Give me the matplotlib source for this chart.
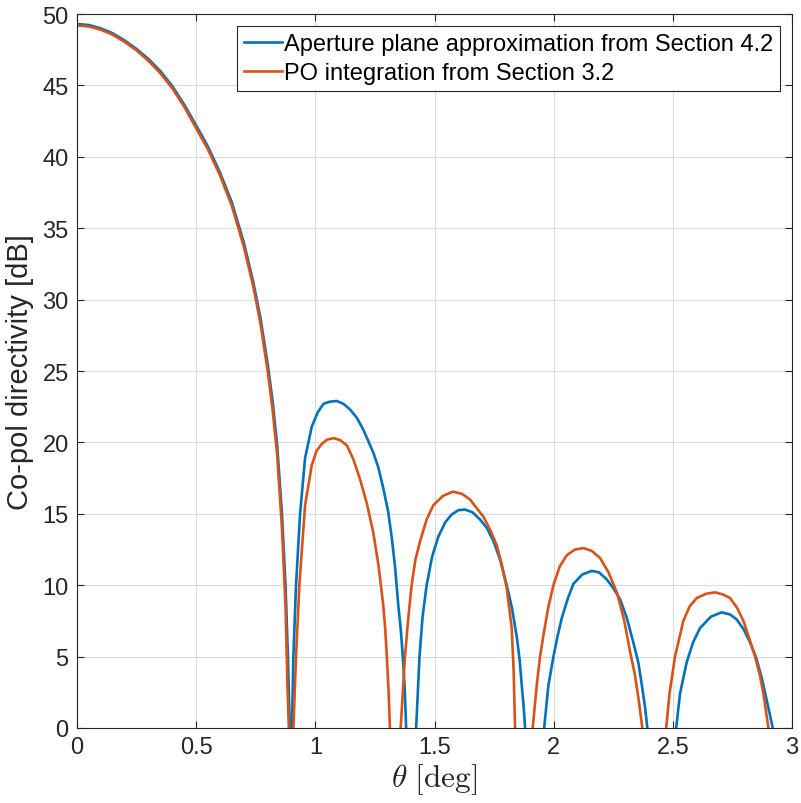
import matplotlib
matplotlib.use("Agg")
from matplotlib import pyplot as plt

plt.rcParams['font.family'] = ['Liberation Sans', 'DejaVu Sans']
plt.rcParams['mathtext.fontset'] = 'cm'

# aperture plane approximation (blue)
# (negative values mark the nulls, which fall below the 0 dB axis limit)
theta_ap = [0.0, 0.05, 0.1, 0.15, 0.2, 0.25, 0.3, 0.35, 0.4, 0.45, 0.5, 0.55, 0.6,
            0.65, 0.7, 0.74, 0.77, 0.8, 0.82, 0.84, 0.86, 0.875, 0.885, 0.892, 0.897,
            0.902, 0.908, 0.919, 0.936, 0.957, 0.985, 1.01, 1.034, 1.06, 1.09, 1.118,
            1.146, 1.175, 1.201, 1.243, 1.265, 1.285, 1.305, 1.321, 1.335, 1.348,
            1.358, 1.367, 1.375, 1.381, 1.40,
            1.423, 1.437, 1.45, 1.467, 1.49, 1.516, 1.545, 1.572, 1.60, 1.628, 1.66,
            1.691, 1.72, 1.747, 1.775, 1.803, 1.825, 1.845, 1.857, 1.866, 1.874,
            1.88, 1.92,
            1.96, 1.978, 1.999, 2.016, 2.034, 2.06, 2.083, 2.12, 2.16, 2.19, 2.223,
            2.25, 2.279, 2.307, 2.334, 2.355, 2.37, 2.383, 2.393, 2.45,
            2.514, 2.53, 2.558, 2.585, 2.614, 2.66, 2.705, 2.74, 2.768, 2.797, 2.824,
            2.85, 2.873, 2.901, 2.919, 2.95]
dir_ap = [49.3, 49.23, 49.0, 48.65, 48.15, 47.55, 46.85, 46.0, 44.95, 43.65, 42.2,
          40.7, 38.9, 36.8, 34.0, 31.2, 28.7, 25.5, 23.0, 19.8, 15.0, 10.0, 5.0,
          0.5, -30,
          0.0, 5.0, 10.0, 15.0, 18.9, 21.1, 22.1, 22.7, 22.85, 22.9, 22.7,
          22.3, 21.7, 20.9, 19.3, 18.2, 16.8, 15.2, 13.3, 11.2, 8.6,
          7.0, 5.0, 2.8, 0.0, -30,
          0.0, 5.0, 7.8, 10.0, 12.0, 13.4, 14.4, 14.95, 15.25, 15.3, 15.1,
          14.6, 14.0, 13.1, 11.8, 10.0, 8.4, 6.4, 4.8, 3.0, 1.5,
          0.0, -30,
          0.0, 3.0, 5.0, 6.4, 7.7, 9.1, 10.1, 10.75, 11.0, 10.9, 10.4,
          9.8, 9.0, 7.7, 6.0, 4.6, 3.0, 1.5, 0.0, -30,
          0.0, 2.4, 4.6, 6.0, 7.0, 7.8, 8.1, 7.95, 7.6, 6.9, 6.0,
          4.9, 3.5, 1.4, 0.0, -30]

# PO integration (orange)
theta_po = [0.0, 0.05, 0.1, 0.15, 0.2, 0.25, 0.3, 0.35, 0.4, 0.45, 0.5, 0.55, 0.6,
            0.65, 0.7, 0.74, 0.77, 0.8, 0.82, 0.84, 0.86, 0.875, 0.883, 0.889, 0.898,
            0.908, 0.919, 0.933, 0.957, 0.985, 1.005, 1.027, 1.05, 1.078, 1.105,
            1.132, 1.16, 1.188, 1.215, 1.243, 1.265, 1.285, 1.293, 1.30, 1.307,
            1.313, 1.335,
            1.358, 1.376, 1.39, 1.404, 1.42, 1.44, 1.467, 1.495, 1.535, 1.577, 1.615,
            1.649, 1.705, 1.733, 1.761, 1.783, 1.803, 1.824, 1.832, 1.838, 1.87,
            1.912, 1.929, 1.942, 1.957, 1.978, 1.999, 2.025, 2.055, 2.09, 2.125,
            2.16, 2.195, 2.23, 2.265, 2.295, 2.321, 2.34, 2.356, 2.372, 2.42,
            2.472, 2.486, 2.509, 2.544, 2.57, 2.60, 2.64, 2.677, 2.71, 2.74,
            2.77, 2.796, 2.82, 2.845, 2.865, 2.88, 2.901, 2.95]
dir_po = [49.2, 49.13, 48.9, 48.55, 48.05, 47.45, 46.72, 45.85, 44.8, 43.5, 42.0,
          40.5, 38.7, 36.55, 33.7, 30.9, 28.3, 25.0, 22.4, 19.1, 14.0, 8.5, 3.0,
          0.0, -30,
          0.0, 5.0, 10.0, 15.6, 18.4, 19.4, 19.9, 20.2, 20.3, 20.15,
          19.8, 18.8, 17.4, 15.8, 13.7, 11.4, 8.6, 7.0, 5.0, 2.7,
          0.0, -30,
          0.0, 5.0, 7.7, 10.0, 11.8, 13.1, 14.6, 15.6, 16.25, 16.55, 16.4,
          16.0, 14.8, 13.9, 12.8, 11.4, 9.8, 7.0, 4.0, 0.0, -30,
          0.0, 3.0, 4.9, 6.5, 8.5, 10.0, 11.3, 12.1, 12.5, 12.6,
          12.4, 11.9, 10.9, 9.5, 7.6, 5.3, 3.8, 2.05, 0.0, -30,
          0.0, 2.4, 5.0, 7.5, 8.5, 9.1, 9.4, 9.5, 9.35, 9.1,
          8.4, 7.5, 6.3, 5.0, 3.7, 2.4, 0.0, -30]

fig = plt.figure(figsize=(8.01, 8.04), dpi=100)
ax = fig.add_axes([0.0961, 0.0933, 0.8927, 0.888])

ax.plot(theta_ap, dir_ap, color="#0072BD", lw=1.9,
        label="Aperture plane approximation from Section 4.2")
ax.plot(theta_po, dir_po, color="#D95319", lw=1.9,
        label="PO integration from Section 3.2")

ax.set_xlim(0, 3)
ax.set_ylim(0, 50)
ax.set_xticks([0, 0.5, 1, 1.5, 2, 2.5, 3])
ax.set_xticklabels(["0", "0.5", "1", "1.5", "2", "2.5", "3"])
ax.set_yticks(range(0, 51, 5))
ax.grid(True, color="#dcdcdc", lw=0.8)
ax.tick_params(direction="in", top=True, right=True, labelsize=17,
               colors="#262626", length=5, pad=6)
for s in ax.spines.values():
    s.set_color("#262626")
    s.set_linewidth(0.8)

ax.set_ylabel("Co-pol directivity [dB]", fontsize=21, color="#262626", labelpad=6)
ax.set_xlabel(r"$\theta\ \mathrm{[deg]}$", fontsize=22.5, color="#262626", labelpad=2)

leg = ax.legend(loc="upper right", fontsize=17, frameon=True, fancybox=False,
                framealpha=1, edgecolor="#262626", handlelength=1.6,
                handletextpad=0.1, borderpad=0.3, labelspacing=0.3,
                borderaxespad=0.5)
leg.get_frame().set_linewidth(0.8)

fig.savefig("out.png", dpi=100)
